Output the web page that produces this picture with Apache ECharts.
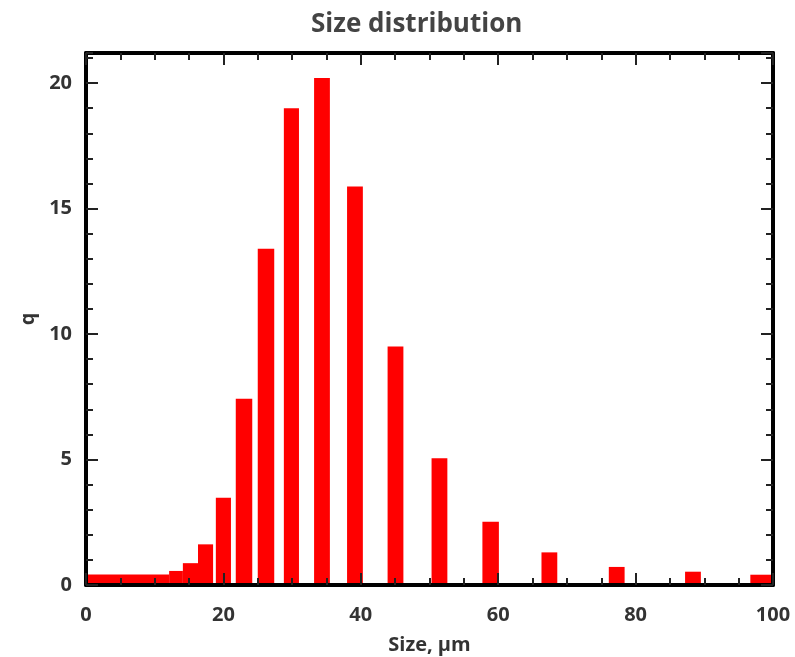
<!DOCTYPE html>
<html>
<head>
<meta charset="utf-8">
<title>Size distribution</title>
<script src="https://cdn.jsdelivr.net/npm/echarts@6/dist/echarts.min.js"></script>
<style>
  html, body {
    margin: 0;
    padding: 0;
    background: #fff;
  }
  #chart {
    width: 795px;
    height: 657px;
  }
</style>
</head>
<body>
<div id="chart"></div>
<script>
// bins: left edge, right edge (µm) and q
const sizeFrom = [0, 12.1, 14.1, 16.3, 18.9, 21.8, 25.0, 28.8, 33.2, 38.0, 43.9, 50.3, 57.7, 66.3, 76.1, 87.2, 96.7]
const sizeTo = [12.1, 14.1, 16.3, 18.5, 21.1, 24.2, 27.4, 31.0, 35.5, 40.3, 46.2, 52.6, 60.1, 68.6, 78.4, 89.5, 100]
const q = [0.42, 0.56, 0.87, 1.62, 3.48, 7.42, 13.4, 19.0, 20.2, 15.88, 9.5, 5.05, 2.52, 1.3, 0.72, 0.53, 0.41]

const font = '"Open Sans", "DejaVu Sans", sans-serif'
const labelStyle = {
  fontFamily: font,
  fontWeight: 'bold',
  fontSize: 20,
  color: '#333',
}
const tickColor = '#222'
const frameLine = { show: true, onZero: false, lineStyle: { color: '#000', width: 4 } }

const chart = echarts.init(document.getElementById('chart'))

const bins = sizeFrom.map((x, i) => [x, sizeTo[i], q[i]])

// ticks only axis helper (mirrored axes on top / right, minor ticks)
function tickAxis(extra) {
  return Object.assign({
    type: 'value',
    axisLabel: { show: false },
    axisLine: { show: false, onZero: false },
    splitLine: { show: false },
    axisTick: {
      inside: true,
      length: 12,
      lineStyle: { color: tickColor, width: 2 },
    },
    z: 3,
  }, extra)
}

const minorTicks = { inside: true, length: 7, lineStyle: { color: tickColor, width: 2 } }

const option = {
  animation: false,
  backgroundColor: '#fff',
  title: {
    text: 'Size distribution',
    left: 306,
    top: 7,
    textStyle: {
      fontFamily: font,
      fontWeight: 'bold',
      fontSize: 26,
      color: '#444',
    },
  },
  grid: {
    left: 86,
    right: 22,
    top: 53,
    bottom: 72,
    show: false,
    outerBoundsMode: 'none',
  },
  xAxis: [
    {
      type: 'value',
      position: 'bottom',
      min: 0,
      max: 100,
      interval: 20,
      name: 'Size, µm',
      nameLocation: 'middle',
      nameGap: 50,
      nameTextStyle: labelStyle,
      axisLine: frameLine,
      axisTick: { inside: true, length: 12, lineStyle: { color: tickColor, width: 2 } },
      minorTick: { show: true, splitNumber: 4, length: 7, lineStyle: { color: tickColor, width: 2 } },
      axisLabel: Object.assign({ margin: 20 }, labelStyle),
      splitLine: { show: false },
      z: 3,
    },
    tickAxis({
      position: 'top',
      min: 0,
      max: 100,
      interval: 20,
      axisLine: frameLine,
      minorTick: { show: true, splitNumber: 4, length: 7, lineStyle: { color: tickColor, width: 2 } },
    }),
  ],
  yAxis: [
    {
      type: 'value',
      position: 'left',
      min: 0,
      max: 21.2,
      interval: 5,
      name: 'q',
      nameLocation: 'middle',
      nameGap: 46,
      nameTextStyle: labelStyle,
      axisLine: frameLine,
      axisTick: { inside: true, length: 12, lineStyle: { color: tickColor, width: 2 } },
      axisLabel: Object.assign({ margin: 14, showMaxLabel: false }, labelStyle),
      splitLine: { show: false },
      z: 3,
    },
    tickAxis({ position: 'left', min: 0, max: 21.2, interval: 1, axisTick: minorTicks }),
    tickAxis({ position: 'right', min: 0, max: 21.2, interval: 5, axisLine: frameLine }),
    tickAxis({ position: 'right', min: 0, max: 21.2, interval: 1, axisTick: minorTicks }),
  ],
  series: [
    {
      type: 'custom',
      xAxisIndex: 0,
      yAxisIndex: 0,
      clip: true,
      data: bins,
      renderItem: function (params, api) {
        const p0 = api.coord([api.value(0), api.value(2)])
        const p1 = api.coord([api.value(1), 0])
        return {
          type: 'rect',
          shape: { x: p0[0], y: p0[1], width: p1[0] - p0[0], height: p1[1] - p0[1] },
          style: { fill: '#ff0000' },
        }
      },
    },
  ],
}

chart.setOption(option)
</script>
</body>
</html>
